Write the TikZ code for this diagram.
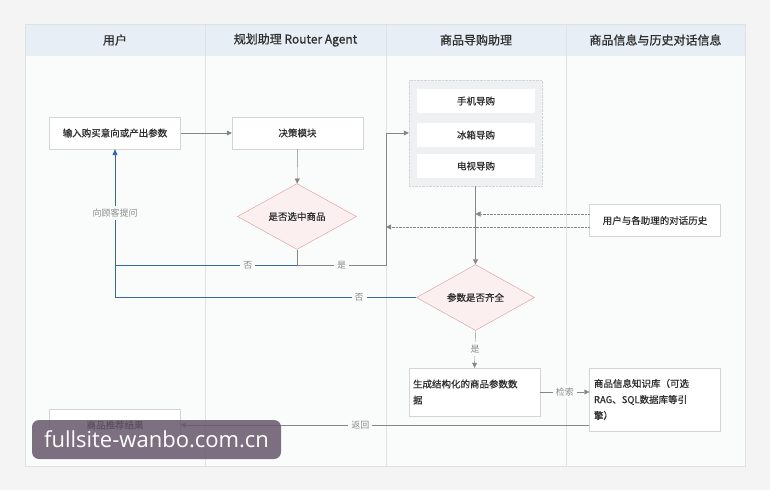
\documentclass[tikz,border=0pt]{standalone}
\usepackage{fontspec}
\setmainfont{Noto Sans CJK SC}
\newfontfamily\boxfont[FakeBold=0.6]{Noto Sans CJK SC}
\newfontfamily\headfont[FakeBold=0.9]{Noto Sans CJK SC}
\newfontfamily\wmfont{Open Sans}
\usetikzlibrary{arrows.meta,shapes.geometric}
\definecolor{pagebg}{HTML}{F3F4F3}
\definecolor{lanebg}{HTML}{FAFBFB}
\definecolor{headbg}{HTML}{E7EEF6}
\definecolor{laneline}{HTML}{DEE2E6}
\definecolor{boxline}{HTML}{D4D4D4}
\definecolor{arrowg}{HTML}{868686}
\definecolor{askblue}{HTML}{3567B2}
\definecolor{diafill}{HTML}{FBEFEF}
\definecolor{diadraw}{HTML}{D99A9A}
\definecolor{groupbg}{HTML}{EEF0F1}
\definecolor{textg}{HTML}{2E2E2E}
\definecolor{lblg}{HTML}{8C8C8C}
\definecolor{wmbg}{HTML}{66586B}
\tikzset{
  stepbox/.style={draw=boxline, fill=white, minimum width=131pt, minimum height=32pt,
    inner sep=3pt, text=textg, font=\boxfont\fontsize{9.5}{16}\selectfont},
  guidebox/.style={fill=white, minimum width=118pt, minimum height=24pt,
    text=textg, font=\boxfont\fontsize{9.5}{12}\selectfont},
  check/.style={diamond, draw=diadraw, fill=diafill, inner sep=0pt, minimum width=119pt,
    minimum height=43pt, text=textg, font=\boxfont\fontsize{9.5}{12}\selectfont},
  lanehead/.style={text=textg, font=\headfont\fontsize{12}{14}\selectfont},
  flow/.style={draw=arrowg, -{Triangle[length=5pt,width=5pt]}},
  ask/.style={draw=askblue, thick},
  hist/.style={draw=arrowg, densely dotted, -{Triangle[length=5pt,width=5pt]}},
  lbl/.style={fill=lanebg, inner sep=3pt, text=lblg, font=\fontsize{9}{11}\selectfont}
}
\begin{document}
\begin{tikzpicture}[x=1pt,y=-1pt]
  % Hintergrund
  \fill[pagebg] (0,0) rectangle (770,490);
  \fill[lanebg] (25,24) rectangle (745,466);
  \fill[headbg] (25,24) rectangle (745,56);
  \draw[laneline] (25,24) rectangle (745,466);
  \foreach \x in {205,386,566}
    \draw[laneline] (\x,24) -- (\x,466);
  % Spaltenkoepfe
  \node[lanehead] (headuser) at (115,40) {用户};
  \node[lanehead] (headrouter) at (295.5,40) {规划助理 Router Agent};
  \node[lanehead] (headguide) at (476,40) {商品导购助理};
  \node[lanehead] (headinfo) at (655.5,40) {商品信息与历史对话信息};
  % Knoten
  \node[stepbox] (input) at (115,133) {输入购买意向或产出参数};
  \node[stepbox] (decide) at (297.5,133) {决策模块};
  \node[check] (picked) at (297,216.5) {是否选中商品};
  \node[draw=boxline, densely dotted, fill=groupbg, minimum width=133pt, minimum height=106pt]
    (guides) at (475.5,133) {};
  \node[guidebox] (phone) at (476,101) {手机导购};
  \node[guidebox] (fridge) at (476,135) {冰箱导购};
  \node[guidebox] (tv) at (476,166) {电视导购};
  \node[stepbox] (history) at (655,220.5) {用户与各助理的对话历史};
  \node[check, minimum width=118pt] (complete) at (475.5,297.5) {参数是否齐全};
  \node[stepbox, minimum height=48pt, text width=123pt, align=left] (gen) at (474.5,392)
    {生成结构化的商品参数数\\据};
  \node[stepbox, minimum height=63pt, text width=122pt, align=left] (kb) at (655,399.5)
    {商品信息知识库（可选\\RAG、SQL数据库等引\\擎）};
  \node[stepbox] (result) at (115,425) {商品推荐结果};
  % Verbindungen
  \draw[flow] (input) -- (decide);
  \draw[flow] (decide) -- (picked);
  \coordinate (split) at (297,265);
  \coordinate (yesturn) at (386,265);
  \coordinate (askturn) at (115,265);
  \draw[arrowg] (picked.south) -- (split);
  \draw[flow] (split) -- node[lbl] {是} (yesturn) |- (guides.west);
  \draw[ask, -{Triangle[length=6pt,width=5pt]}] (split) -- node[lbl, pos=0.27] {否} (askturn)
    -- node[lbl, pos=0.45] {向顾客提问} (input.south);
  \draw[ask] (complete.west) -- node[lbl, pos=0.19] {否} (complete.west -| askturn) -- (askturn);
  \draw[flow] (guides.south) -- (complete.north);
  \draw[hist] ([yshift=6.5pt]history.west) -- ([yshift=6.5pt]history.west -| guides.south);
  \draw[hist] ([yshift=-6.5pt]history.west) -- ([yshift=-6.5pt]history.west -| yesturn);
  \draw[flow] (complete.south) -- node[lbl] {是} (gen.north);
  \draw[flow] (gen.east) -- node[lbl] {检索} (gen.east -| kb.west);
  \draw[flow] (kb.west |- result.east) -- node[lbl, pos=0.56] {返回} (result.east);
  % Wasserzeichen
  \node[fill=wmbg, fill opacity=0.85, text opacity=1, text=white, rounded corners=7pt,
    minimum width=249pt, minimum height=39pt, font=\wmfont\fontsize{22}{24}\selectfont]
    (mark) at (156.5,439.5) {fullsite-wanbo.com.cn};
\end{tikzpicture}
\end{document}
